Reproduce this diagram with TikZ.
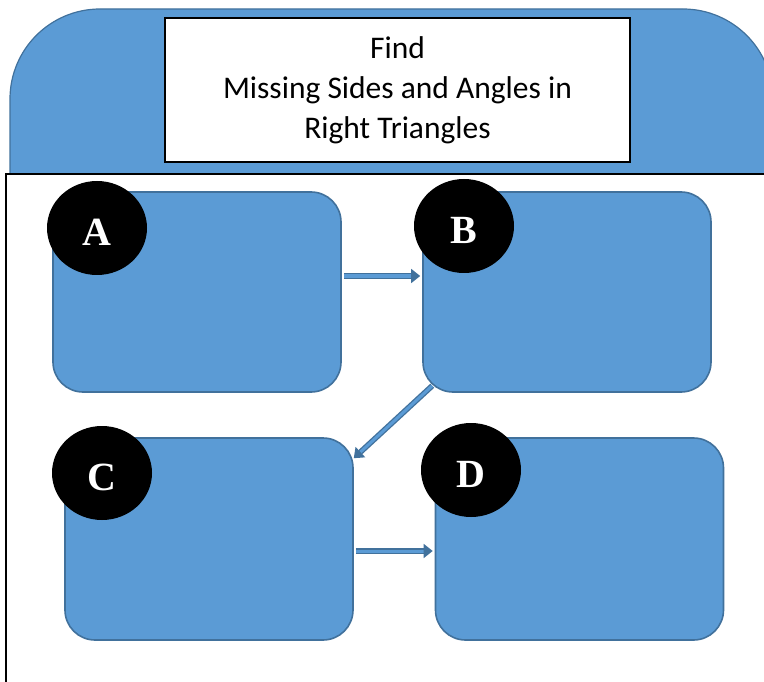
\documentclass[tikz,border=0pt]{standalone}
\usepackage{fontspec}
\setmainfont{Carlito}
\newfontfamily\letterfont{Liberation Serif}
\usetikzlibrary{shapes.geometric,arrows.meta}
\definecolor{boxblue}{HTML}{5B9BD5}
\definecolor{boxedge}{HTML}{41719C}
\definecolor{arrowedge}{HTML}{41719C}
\tikzset{
  stepbox/.style={draw=boxedge, line width=1.6pt, fill=boxblue, rounded corners=30pt, minimum width=288pt, minimum height=200pt, inner sep=0pt},
  badge/.style={ellipse, fill=black, minimum width=100pt, minimum height=94pt, inner sep=0pt, text=white, text height=34.5pt, text depth=0pt, font=\letterfont\bfseries\fontsize{40}{40}\selectfont},
  flowarrow/.style={draw=arrowedge, line width=1.3pt, double=boxblue, double distance=3pt, -{Triangle[length=9pt,width=14pt]}},
}
\begin{document}
\begin{tikzpicture}[x=1pt,y=-1pt]
\useasboundingbox (0,0) rectangle (764,682);
\begin{scope}
\clip (0,0) rectangle (764,682);
\draw[fill=boxblue, draw=boxedge, line width=1.2pt, rounded corners=90pt] (10,9) rectangle (773,400);
\draw[fill=white, draw=black, line width=2pt] (6,174) rectangle (820,760);
\end{scope}
\node[draw=black, line width=1.5pt, fill=white, minimum width=465pt, minimum height=144pt, align=center, font=\fontsize{31.5}{40}\selectfont] (title) at (397.5,90) {Find\\Missing Sides and Angles in\\Right Triangles};
\node[stepbox] (A) at (197,292) {};
\node[stepbox] (B) at (567,292) {};
\node[stepbox, minimum height=202pt] (C) at (209,539) {};
\node[stepbox, minimum height=202pt] (D) at (579.5,539) {};
\node[badge] (cA) at (97,228) {A};
\node[badge] (cB) at (464,226) {B};
\node[badge] (cC) at (102,473) {C};
\node[badge] (cD) at (471,470) {D};
\draw[flowarrow] ([xshift=2pt,yshift=16pt]A.east) -- ([xshift=-2pt,yshift=16pt]B.west);
\draw[flowarrow] ([xshift=10pt,yshift=7pt]B.south west) -- ([yshift=-21pt]C.north east);
\draw[flowarrow] ([xshift=2pt,yshift=-12pt]C.east) -- ([xshift=-2pt,yshift=-12pt]D.west);
\end{tikzpicture}
\end{document}
